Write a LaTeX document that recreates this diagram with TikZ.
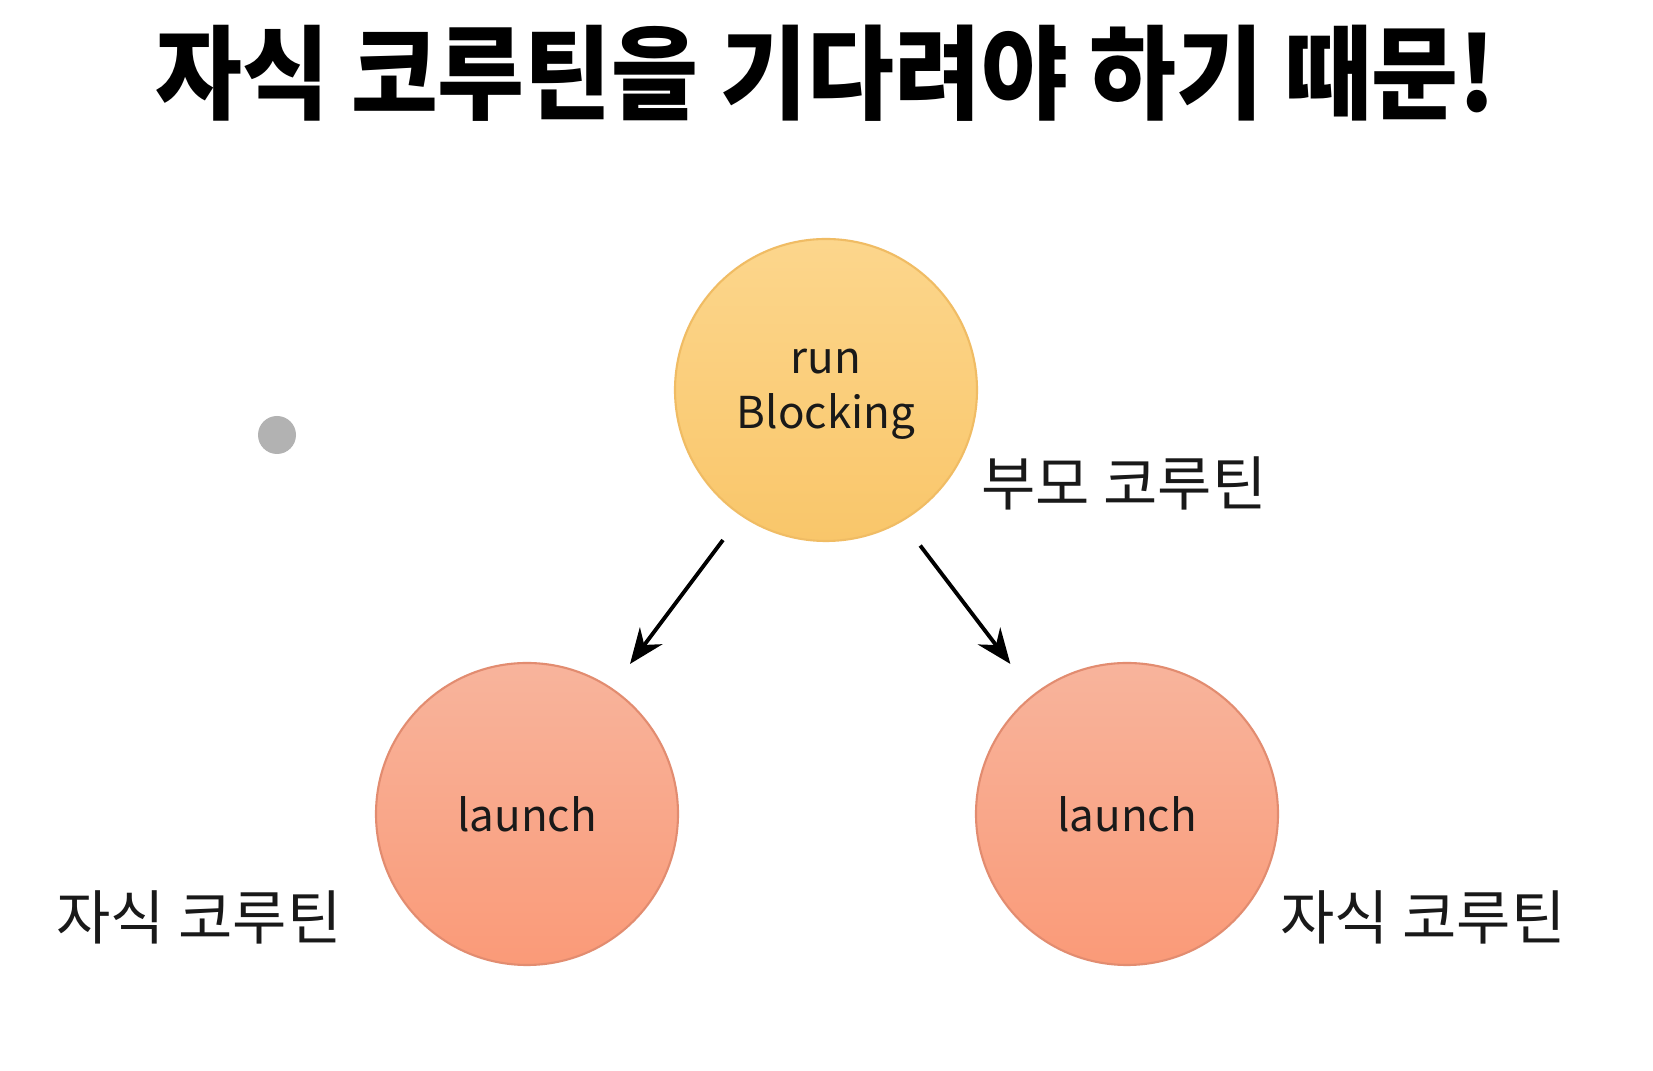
\documentclass[tikz,border=0pt]{standalone}
\usepackage{fontspec}
\usepackage{graphicx}
\usepackage{tikz}
\usetikzlibrary{
  arrows.meta,
  positioning,
  shadings
}
\newfontfamily\cjk{Noto Sans CJK KR}
\definecolor{xsun}{RGB}{252,214,140}
\definecolor{xsunlow}{RGB}{249,198,106}
\definecolor{xsunrim}{RGB}{240,188,100}
\definecolor{xcoral}{RGB}{248,180,156}
\definecolor{xcorallow}{RGB}{250,154,120}
\definecolor{xcoralrim}{RGB}{226,140,112}
\definecolor{xink}{RGB}{25,25,25}

\begin{document}
\begin{tikzpicture}[
  coro/.style={circle, draw=#1rim, top color=#1, bottom color=#1low,
               line width=0.6pt, minimum size=3.02cm, inner sep=0pt,
               font=\cjk\fontsize{12.5}{15.5}\selectfont, text=xink, align=center},
  arr/.style={-{Stealth[length=10pt, width=8pt]}, line width=1.1pt, color=black,
              shorten >=0.3cm, shorten <=0.3cm},
  tag/.style={font=\cjk\fontsize{16.8}{18}\selectfont, text=xink},
  headline/.style={font=\cjk\bfseries\fontsize{28}{30}\selectfont, text=black}
]
  \useasboundingbox[fill=white] (0,0) rectangle (16.53,10.71);

  \node[headline] (title) at (8.26,9.98) {\scalebox{0.96}[1.04]{자식 코루틴을 기다려야 하기 때문!}};

  \node[coro=xsun]   (parent) at (8.26,6.81)
    {\raisebox{-0.09cm}{\begin{tabular}{@{}c@{}}run\\Blocking\end{tabular}}};
  \node[coro=xcoral] (childl) at (5.27,2.57) {launch};
  \node[coro=xcoral] (childr) at (11.27,2.57) {launch};

  \node[tag] (lblparent) at (11.24,5.88) {부모 코루틴};
  \node[tag] (lblchildl) at (1.99,1.54)  {자식 코루틴};
  \node[tag] (lblchildr) at (14.23,1.54) {자식 코루틴};

  \node[circle, fill=black!30, minimum size=0.38cm, inner sep=0pt] (dot) at (2.77,6.36) {};

  \foreach \from/\to/\gap in {parent.236/childl.56/0.3cm, parent.300/childr.128/0.38cm}{
    \draw[arr, shorten >=\gap] (\from) -- (\to);
  }
\end{tikzpicture}
\end{document}
